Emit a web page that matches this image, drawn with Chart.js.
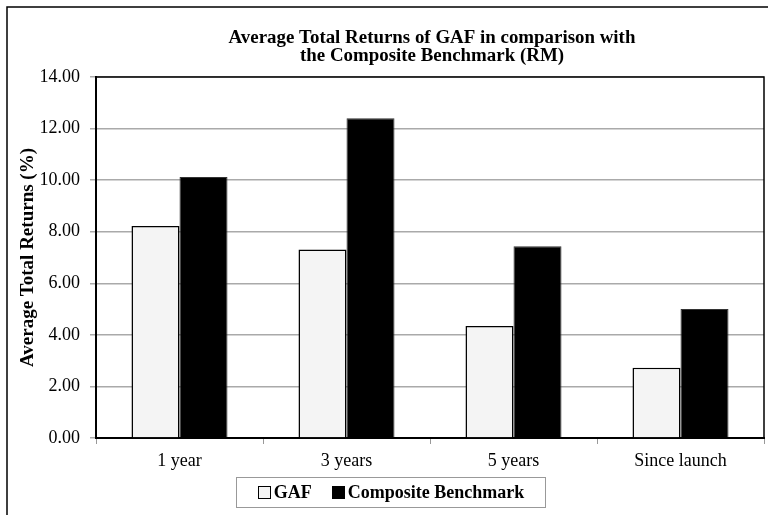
<!DOCTYPE html>
<html>
<head>
<meta charset="utf-8">
<script src="https://cdn.jsdelivr.net/npm/chart.js@4/dist/chart.umd.min.js"></script>
<style>
  body { margin: 0; background: #fff; }
  #wrap { position: relative; width: 768px; height: 515px; }
  #legend {
    position: absolute; left: 236px; top: 477px; width: 308px; height: 29px;
    border: 1px solid #999; display: flex; align-items: center; justify-content: center;
    font: bold 18px "Liberation Serif", "Times New Roman", serif; color: #000;
  }
  #legend .item { display: flex; align-items: center; margin: 0 10px; }
  #legend .box { width: 11px; height: 11px; border: 1px solid #000; margin-right: 3px; }
</style>
</head>
<body>
<div id="wrap">
  <canvas id="chart" width="768" height="515"></canvas>
  <div id="legend"></div>
</div>
<script>
const categories = ["1 year", "3 years", "5 years", "Since launch"];
const seriesNames = ["GAF", "Composite Benchmark"];
const gafValues = [8.22, 7.31, 4.34, 2.72];
const benchmarkValues = [10.12, 12.40, 7.44, 5.00];
const titleLines = ["Average Total Returns of GAF in comparison with", "the Composite Benchmark (RM)"];
const yTitle = "Average Total Returns (%)";

const serif = '"Liberation Serif", "Times New Roman", serif';
const fills = ["#f4f4f4", "#000000"];

const frame = {
  id: "frame",
  beforeDraw(chart) {
    const ctx = chart.ctx;
    ctx.save();
    ctx.fillStyle = "#fff";
    ctx.fillRect(0, 0, chart.width, chart.height);
    ctx.strokeStyle = "#000";
    ctx.lineWidth = 1.5;
    ctx.beginPath();
    ctx.moveTo(7, chart.height);
    ctx.lineTo(7, 7);
    ctx.lineTo(chart.width, 7);
    ctx.stroke();
    ctx.restore();
  },
  afterDraw(chart) {
    const { ctx, chartArea: a } = chart;
    ctx.save();
    ctx.strokeStyle = "#000";
    ctx.lineWidth = 1.5;
    ctx.beginPath();
    ctx.moveTo(a.left, a.top);
    ctx.lineTo(a.right, a.top);
    ctx.lineTo(a.right, a.bottom);
    ctx.stroke();

    // title centred over the plot area, slightly wide like the original
    const cx = (a.left + a.right) / 2 + 2;
    ctx.translate(cx, 0);
    ctx.scale(1.05, 1);
    ctx.fillStyle = "#000";
    ctx.font = `bold 18px ${serif}`;
    ctx.textAlign = "center";
    ctx.textBaseline = "middle";
    titleLines.forEach((line, i) => ctx.fillText(line, 0, 38 + i * 18.5));
    ctx.restore();
  },
};

new Chart(document.getElementById("chart"), {
  type: "bar",
  data: {
    labels: categories,
    datasets: [
      {
        label: seriesNames[0],
        data: gafValues,
        backgroundColor: fills[0],
        borderColor: "#000",
        borderWidth: 1.5,
      },
      {
        label: seriesNames[1],
        data: benchmarkValues,
        backgroundColor: fills[1],
        borderColor: "#333",
        borderWidth: 1,
      },
    ],
  },
  options: {
    responsive: false,
    animation: false,
    layout: { padding: { left: 0, right: 4, top: 77, bottom: 37 } },
    datasets: { bar: { categoryPercentage: 0.575, barPercentage: 1 } },
    plugins: {
      legend: { display: false },
      title: { display: false },
      tooltip: { enabled: false },
    },
    scales: {
      x: {
        grid: { drawOnChartArea: false, drawTicks: true, tickLength: 6, color: "#999" },
        border: { color: "#000", width: 2 },
        ticks: { color: "#000", font: { family: serif, size: 18 }, padding: 6 },
        afterFit: (scale) => { scale.height = 40; },
      },
      y: {
        min: 0,
        max: 14,
        grid: { color: "#aaa", lineWidth: 1.5, tickLength: 6 },
        border: { color: "#000", width: 2 },
        ticks: {
          stepSize: 2,
          color: "#000",
          padding: 10,
          font: { family: serif, size: 18 },
          callback: (v) => Number(v).toFixed(2),
        },
        title: {
          display: true,
          text: yTitle,
          color: "#000",
          font: { family: serif, size: 19, weight: "bold" },
          padding: { top: 17, bottom: 0 },
        },
        afterFit: (scale) => { scale.width = 96; },
      },
    },
  },
  plugins: [frame],
});

const legend = document.getElementById("legend");
seriesNames.forEach((name, i) => {
  const item = document.createElement("span");
  item.className = "item";
  const box = document.createElement("span");
  box.className = "box";
  box.style.background = fills[i];
  item.appendChild(box);
  item.appendChild(document.createTextNode(name));
  legend.appendChild(item);
});
</script>
</body>
</html>
